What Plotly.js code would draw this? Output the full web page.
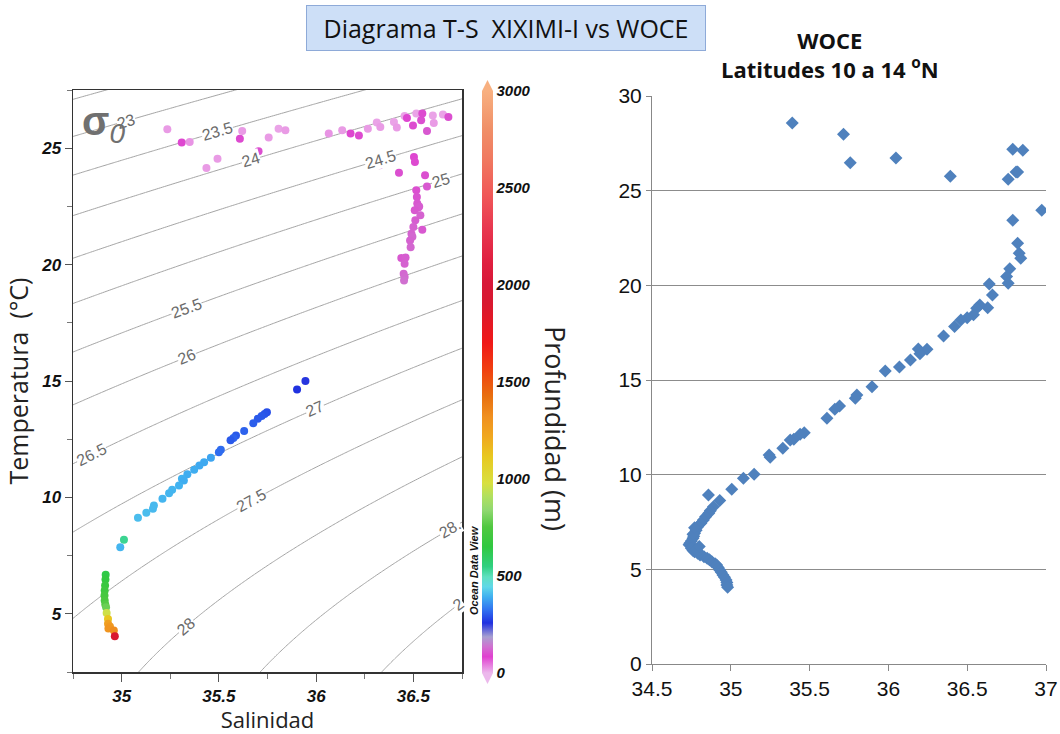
<!DOCTYPE html>
<html>
<head>
<meta charset="utf-8">
<script src="https://cdn.plot.ly/plotly-3.0.1.min.js"></script>
<style>html,body{margin:0;padding:0;background:#fff;}#chart{width:1060px;height:734px;}</style>
</head>
<body>
<div id="chart"></div>
<script>
// ---------- XIXIMI-I (left panel) ----------
const xiximiSalinity = [
  35.235,35.309,35.35,35.436,35.493,35.608,35.62,35.704,35.756,35.807,35.842,
  36.065,36.134,36.177,36.22,36.266,36.312,36.33,36.4,36.415,36.455,36.467,36.498,36.515,36.54,36.546,36.57,36.6,36.605,36.652,36.68,
  36.326,36.426,36.503,36.508,36.56,36.57,
  36.515,36.518,36.52,36.525,36.53,36.507,36.536,36.51,36.5,36.49,36.546,36.495,36.483,36.486,36.438,36.46,36.455,36.45,36.455,36.452,
  35.902,35.945,35.747,35.735,35.72,35.7,35.677,35.63,35.588,35.575,35.56,35.51,35.5,
  35.459,35.424,35.4,35.373,35.338,35.31,35.32,35.295,35.26,35.244,35.21,35.166,35.161,35.127,35.084,
  35.012,34.993,
  34.918,34.917,34.915,34.913,34.912,34.913,34.916,34.92,
  34.923,34.93,34.93,34.94,34.932,34.96,34.965
];
const xiximiTemperature = [
  25.81,25.24,25.27,24.15,24.55,25.41,25.74,24.87,25.46,25.84,25.77,
  25.63,25.77,25.63,25.55,25.84,26.1,25.91,26.13,25.89,26.38,26.3,25.98,26.49,26.2,26.49,25.74,26.41,26.08,26.45,26.34,
  24.27,23.95,24.62,24.41,23.84,23.36,
  23.19,22.9,22.62,22.45,22.5,22.33,22.12,21.9,21.61,21.33,21.5,21.2,21.04,20.75,20.28,20.3,20.04,19.61,19.47,19.32,
  14.64,15.0,13.66,13.58,13.5,13.38,13.19,12.85,12.66,12.55,12.45,12.05,11.94,
  11.7,11.51,11.37,11.19,10.99,10.8,10.73,10.51,10.33,10.18,9.94,9.65,9.51,9.34,9.13,
  8.18,7.86,
  6.68,6.47,6.22,6.0,5.79,5.57,5.4,5.28,
  5.03,4.78,4.57,4.45,4.37,4.28,4.04
];
const xiximiDepth = [
  20,90,25,20,20,95,20,100,20,15,20,
  25,20,90,95,20,15,20,15,20,15,90,95,15,100,95,110,15,20,15,100,
  140,100,90,95,100,110,
  100,105,110,110,115,110,120,115,120,120,110,125,120,125,110,115,120,125,130,135,
  260,255,290,295,300,300,305,310,300,310,300,320,320,
  380,385,385,390,390,395,390,395,400,400,400,405,405,410,410,
  535,400,
  640,660,680,700,720,740,760,790,
  960,1120,1250,1280,1300,1330,1900
];

// ---------- WOCE, latitudes 10 to 14 N (right panel) ----------
const woceSalinity = [
  35.39,35.715,35.758,36.048,36.393,36.789,36.853,36.76,36.81,36.82,36.973,36.789,36.82,36.83,36.84,
  36.77,36.75,36.76,36.64,36.66,36.63,36.58,36.56,36.54,36.5,36.46,36.42,36.35,36.245,36.19,36.2,36.14,36.07,35.98,
  35.896,35.8,35.79,35.69,35.66,35.61,35.466,35.44,35.4,35.377,35.33,35.25,35.243,35.148,35.08,35.006,34.858,
  34.93,34.89,34.87,34.86,34.84,34.826,34.81,34.79,34.78,34.77,34.765,34.76,34.75,34.74,34.735,34.75,34.75,34.76,34.77,
  34.79,34.805,34.83,34.85,34.865,34.88,34.9,34.91,34.92,34.93,34.94,34.95,34.96,34.97,34.975,34.975,34.98,
  34.76,34.78,34.79,34.8,34.77
];
const woceTemperature = [
  28.58,27.98,26.48,26.73,25.76,27.19,27.13,25.6,25.99,25.99,23.97,23.44,22.22,21.7,21.43,
  20.87,20.46,20.11,20.07,19.49,18.82,18.96,18.79,18.44,18.29,18.17,17.82,17.33,16.62,16.64,16.38,16.06,15.69,15.48,
  14.65,14.21,14.03,13.63,13.45,12.98,12.22,12.13,11.87,11.83,11.39,10.92,11.04,10.02,9.81,9.23,8.93,
  8.63,8.31,8.1,7.96,7.78,7.61,7.43,7.25,7.07,6.9,6.75,6.64,6.5,6.38,6.3,6.2,6.11,6.0,5.93,
  5.85,5.76,5.67,5.58,5.5,5.4,5.3,5.23,5.1,4.97,4.85,4.7,4.58,4.44,4.3,4.17,4.05,
  6.85,6.05,5.95,6.2,7.2
];

// ---------- isopycnal labels (sigma-0) ----------
const isoLevels = [23,23.5,24,24.5,25,25.5,26,26.5,27,27.5,28,28.5,29];
const isoLabelSalinity = [35.022,35.491,35.667,36.331,36.64,35.331,35.337,34.847,35.996,35.667,35.331,36.69,36.73];
const isoLabelText = ["23","23.5","24","24.5","25","25.5","26","26.5","27","27.5","28","28.","2"];

const xTicks = [35,35.5,36,36.5];
const yTicks = [5,10,15,20,25];
const depthTicks = [0,500,1000,1500,2000,2500,3000];

// UNESCO EOS-80 density at surface pressure, sigma = rho - 1000
function sigma0(S,T){
  const rw = 999.842594 + 6.793952e-2*T - 9.095290e-3*T*T + 1.001685e-4*T**3 - 1.120083e-6*T**4 + 6.536332e-9*T**5;
  const A = 8.24493e-1 - 4.0899e-3*T + 7.6438e-5*T*T - 8.2467e-7*T**3 + 5.3875e-9*T**4;
  const B = -5.72466e-3 + 1.0227e-4*T - 1.6546e-6*T*T;
  const C = 4.8314e-4;
  return rw + A*S + B*Math.pow(S,1.5) + C*S*S - 1000;
}
const gS=[],gT=[],gZ=[];
for(let s=34.6;s<=36.9001;s+=0.02) gS.push(+s.toFixed(3));
for(let t=1.5;t<=28.5001;t+=0.1) gT.push(+t.toFixed(2));
for(const t of gT){ gZ.push(gS.map(s=>sigma0(s,t))); }

function tempOnLevel(S,lev){
  let lo=-2,hi=35;
  for(let k=0;k<60;k++){const m=(lo+hi)/2; if(sigma0(S,m)>lev) lo=m; else hi=m;}
  return (lo+hi)/2;
}
const W=1060,H=734;
const L={x0:73,x1:462,y0:90,y1:672};
const R={x0:652,x1:1046,y0:96,y1:664};
const pxPerS=(L.x1-L.x0)/2, pxPerT=(L.y1-L.y0)/25;

const isoAnn = isoLevels.map((lev,i)=>{
  const S=isoLabelSalinity[i], T=tempOnLevel(S,lev), h=0.01;
  const dS=(sigma0(S+h,T)-sigma0(S-h,T))/(2*h), dT=(sigma0(S,T+h)-sigma0(S,T-h))/(2*h);
  const ang=-Math.atan2(dS*pxPerT,-dT*pxPerS)*180/Math.PI;
  return {x:S,y:T,xref:'x',yref:'y',text:isoLabelText[i],showarrow:false,textangle:ang,
    font:{family:'Arial',size:16,color:'#6b6b6b'},bgcolor:'#ffffff',borderpad:0};
});

const depthScale=[
 [0,'#ecb8ec'],[0.028,'#e040d0'],[0.045,'#d070d0'],[0.062,'#a8a0d0'],[0.086,'#2030e0'],[0.108,'#3070f0'],
 [0.131,'#40b0f0'],[0.148,'#60d8e8'],[0.165,'#60e0c0'],[0.183,'#30d080'],[0.217,'#30c840'],[0.251,'#50c840'],
 [0.28,'#90d870'],[0.303,'#b0e060'],[0.326,'#d8e040'],[0.372,'#e8c820'],[0.406,'#f0a820'],[0.44,'#f09020'],
 [0.475,'#e87010'],[0.521,'#f04010'],[0.567,'#f01818'],[0.636,'#d81830'],[0.67,'#d81838'],[0.708,'#e02040'],
 [0.765,'#e83850'],[0.822,'#f05858'],[0.88,'#f07860'],[0.936,'#f09068'],[1,'#f8b080']];

const px=v=>v/W, py=v=>1-v/H;

const traces=[
 {type:'contour',x:gS,y:gT,z:gZ,xaxis:'x',yaxis:'y',showscale:false,hoverinfo:'skip',
  contours:{start:22.5,end:29.5,size:0.5,coloring:'lines',showlabels:false},
  colorscale:[[0,'#a4a4a4'],[1,'#a4a4a4']],line:{width:1,smoothing:1.3}},
 {type:'scatter',mode:'markers',x:xiximiSalinity,y:xiximiTemperature,xaxis:'x',yaxis:'y',
  marker:{size:8,color:xiximiDepth,cmin:0,cmax:3000,colorscale:depthScale,
   colorbar:{x:px(482),xanchor:'left',y:py((91+673)/2),yanchor:'middle',len:582,lenmode:'pixels',
    thickness:11,thicknessmode:'pixels',xpad:0,ypad:0,outlinewidth:0,tickvals:depthTicks,ticks:'',
    tickfont:{family:'Arial',size:15,weight:'bold',style:'italic',color:'#111'}}}},
 {type:'scatter',mode:'markers',x:woceSalinity,y:woceTemperature,xaxis:'x2',yaxis:'y2',
  marker:{symbol:'diamond',size:10,color:'#4F81BD'}}
];

const layout={
 width:W,height:H,autosize:false,margin:{l:0,r:0,t:0,b:0},showlegend:false,
 paper_bgcolor:'#fff',plot_bgcolor:'#fff',
 xaxis:{domain:[px(L.x0),px(L.x1)],range:[34.75,36.75],tickvals:xTicks,showgrid:false,zeroline:false,
  showline:true,mirror:true,linecolor:'#333',linewidth:1.5,ticks:'outside',ticklen:8,tickcolor:'#555',
  minor:{dtick:0.25,tick0:35,ticks:'outside',ticklen:5,tickcolor:'#777'},
  tickfont:{family:'Arial',size:17,weight:'bold',style:'italic',color:'#111'},
  title:{text:'Salinidad',standoff:0,font:{family:'Open Sans',size:22,color:'#222'}}},
 yaxis:{domain:[py(L.y1),py(L.y0)],range:[2.5,27.5],tickvals:yTicks,showgrid:false,zeroline:false,
  showline:true,mirror:true,linecolor:'#333',linewidth:1.5,ticks:'outside',ticklen:7,tickcolor:'#555',
  minor:{dtick:2.5,tick0:0,ticks:'outside',ticklen:5,tickcolor:'#777'},
  tickfont:{family:'Arial',size:17,weight:'bold',style:'italic',color:'#111'},
  title:{text:'Temperatura\u00a0\u00a0(°C)',standoff:5,font:{family:'Open Sans',size:25,color:'#222'}}},
 xaxis2:{domain:[px(R.x0),px(R.x1)],range:[34.5,37],dtick:0.5,tick0:34.5,showgrid:false,zeroline:false,
  showline:true,linecolor:'#888',linewidth:1,ticks:'outside',ticklen:6,tickcolor:'#888',anchor:'y2',
  tickfont:{family:'Arial',size:21,color:'#111'}},
 yaxis2:{domain:[py(R.y1),py(R.y0)],range:[0,30],dtick:5,showgrid:true,gridcolor:'#8c8c8c',gridwidth:1,zeroline:false,
  showline:true,linecolor:'#888',linewidth:1,ticks:'outside',ticklen:5,tickcolor:'#888',anchor:'x2',
  tickfont:{family:'Arial',size:21,color:'#111'}},
 shapes:[
  {type:'path',xref:'paper',yref:'paper',path:`M ${px(482)} ${py(91)} L ${px(493)} ${py(91)} L ${px(487.5)} ${py(80)} Z`,fillcolor:'#f8b080',line:{width:0}},
  {type:'path',xref:'paper',yref:'paper',path:`M ${px(482)} ${py(673)} L ${px(493)} ${py(673)} L ${px(487.5)} ${py(684)} Z`,fillcolor:'#ecb8ec',line:{width:0}}
 ],
 annotations:[
  ...isoAnn,
  {xref:'paper',yref:'paper',x:px(506),y:py(28),xanchor:'center',yanchor:'middle',text:'Diagrama T-S\u00a0\u00a0XIXIMI-I vs WOCE',showarrow:false,
   width:398,height:44,bgcolor:'#cddff7',bordercolor:'#8eaad8',borderwidth:1,borderpad:0,
   font:{family:'Open Sans',size:25,color:'#111'}},
  {xref:'paper',yref:'paper',x:px(830),y:py(55),xanchor:'center',yanchor:'middle',text:'<b>WOCE</b><br><b>Latitudes 10 a 14 <sup>o</sup>N</b>',showarrow:false,
   font:{family:'Open Sans',size:22,color:'#111'}},
  {xref:'paper',yref:'paper',x:px(103),y:py(124),text:'<b>σ</b><sub><i>0</i></sub>',showarrow:false,
   font:{family:'Arial',size:40,color:'#707070'},xanchor:'center',yanchor:'middle'},
  {xref:'paper',yref:'paper',x:px(474),y:py(617),text:'<b><i>Ocean Data View</i></b>',showarrow:false,textangle:-90,
   font:{family:'Arial',size:11,color:'#111'}},
  {xref:'paper',yref:'paper',x:px(555),y:py(428),xanchor:'center',yanchor:'middle',text:'Profundidad (m)',showarrow:false,textangle:90,
   font:{family:'Open Sans',size:27,color:'#222'}}
 ]
};
Plotly.newPlot('chart',traces,layout,{staticPlot:true,displayModeBar:false});
</script>
</body>
</html>
